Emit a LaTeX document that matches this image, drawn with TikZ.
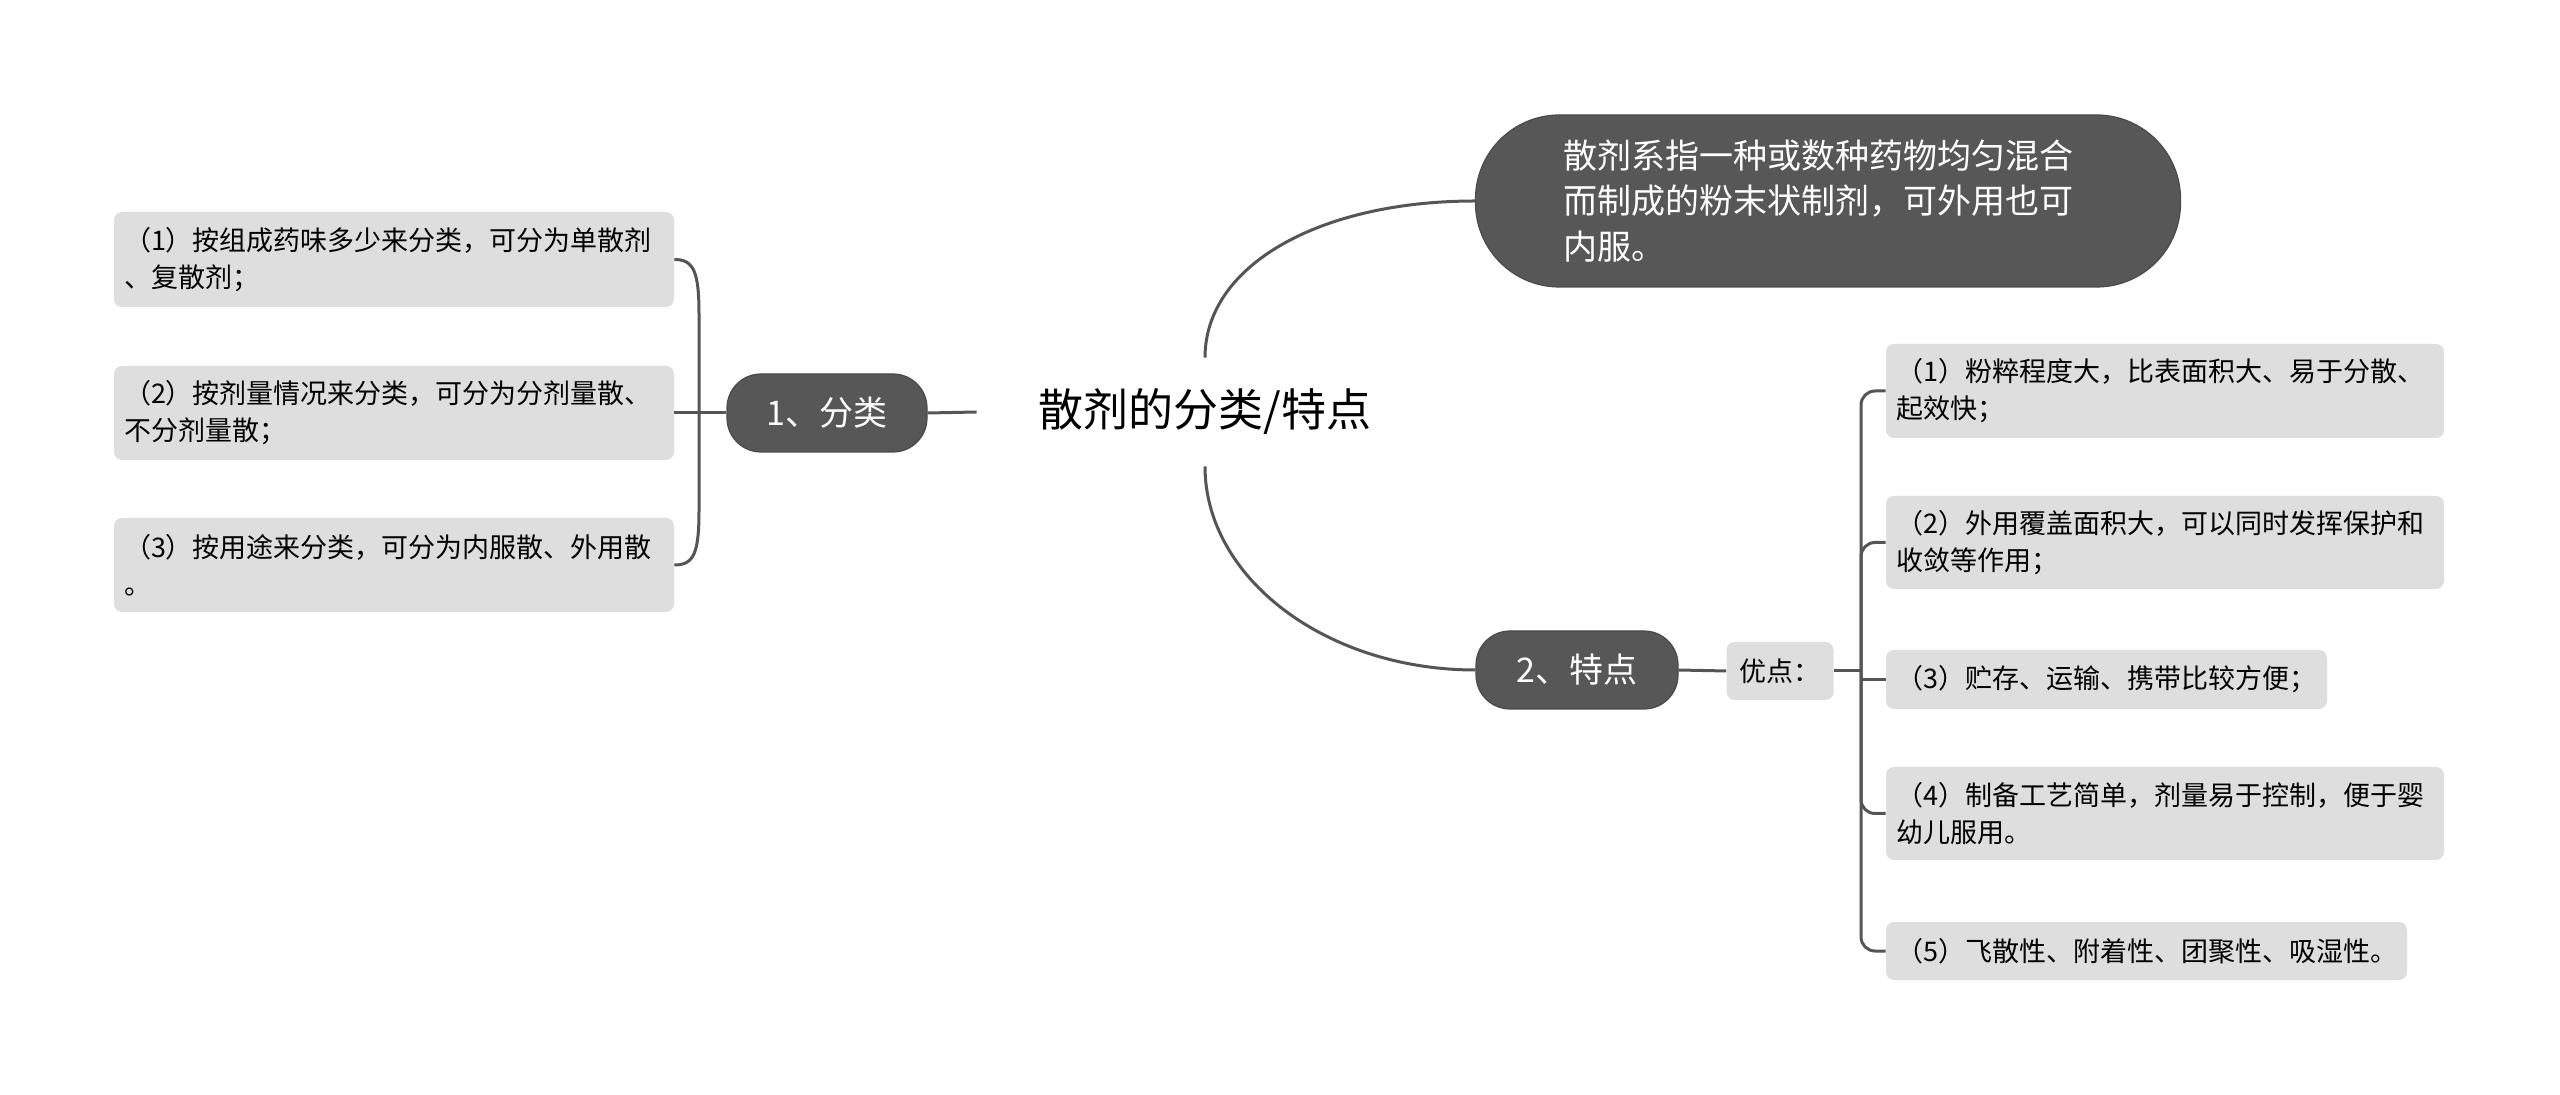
\documentclass[tikz,border=0pt]{standalone}
\usepackage{fontspec}
\setmainfont{Noto Sans CJK SC}
\definecolor{linec}{HTML}{555555}
\definecolor{darkf}{HTML}{575757}
\definecolor{darkd}{HTML}{4A4A4A}
\definecolor{leaff}{HTML}{DEDEDE}
\tikzset{
  conn/.style={draw=linec, line width=1.5pt},
  darkbox/.style={fill=darkf, draw=darkd, line width=0.6pt, text=white, inner sep=0pt},
  leafbox/.style={fill=leaff, draw=none, rounded corners=4pt, inner xsep=5pt, inner ysep=0pt,
    align=left, font=\fontsize{13.5pt}{18.5pt}\selectfont},
}
\begin{document}
\begin{tikzpicture}[x=0.5pt,y=-0.5pt]
\useasboundingbox (0,0) rectangle (2560,1095);
\fill[white] (0,0) rectangle (2560,1095);

% root
\node[inner sep=0pt, minimum width=228pt, minimum height=54pt,
  font=\fontsize{22.5pt}{26pt}\selectfont] (root) at (1205,412) {散剂的分类/特点};

% definition box
\node[darkbox, rounded corners=42pt, minimum width=352.5pt, minimum height=86pt,
  text width=265pt, align=left, font=\fontsize{17pt}{22.75pt}\selectfont]
  (def) at (1828,201) {散剂系指一种或数种药物均匀混合\\而制成的粉末状制剂，可外用也可\\内服。};

% category nodes
\node[darkbox, rounded corners=17pt, minimum width=100pt, minimum height=39pt,
  font=\fontsize{17pt}{20pt}\selectfont] (lcat) at (827,413) {1、分类};
\node[darkbox, rounded corners=17pt, minimum width=101pt, minimum height=39pt,
  font=\fontsize{17pt}{20pt}\selectfont] (fcat) at (1577,670) {2、特点};

\node[leafbox, align=center, minimum width=53.5pt, minimum height=29pt] (yd) at (1780,671) {优点：};

% left leaves
\node[leafbox, text width=270pt, minimum height=47.5pt] (lb1) at (394,259.5)
  {（1）按组成药味多少来分类，可分为单散剂\\、复散剂；};
\node[leafbox, text width=270pt, minimum height=47pt] (lb2) at (394,413)
  {（2）按剂量情况来分类，可分为分剂量散、\\不分剂量散；};
\node[leafbox, text width=270pt, minimum height=47pt] (lb3) at (394,565)
  {（3）按用途来分类，可分为内服散、外用散\\。};

% right leaves
\node[leafbox, text width=269pt, minimum height=47pt] (rb1) at (2165,391)
  {（1）粉粹程度大，比表面积大、易于分散、\\起效快；};
\node[leafbox, text width=269pt, minimum height=46.5pt] (rb2) at (2165,542.5)
  {（2）外用覆盖面积大，可以同时发挥保护和\\收敛等作用；};
\node[leafbox, text width=210.5pt, minimum height=29.5pt] (rb3) at (2106.5,679.5)
  {（3）贮存、运输、携带比较方便；};
\node[leafbox, text width=269pt, minimum height=46.5pt] (rb4) at (2165,813.5)
  {（4）制备工艺简单，剂量易于控制，便于婴\\幼儿服用。};
\node[leafbox, text width=250.5pt, minimum height=29pt] (rb5) at (2146.5,951)
  {（5）飞散性、附着性、团聚性、吸湿性。};

% connectors: root
\draw[conn] (lcat.east) -- (root.west);
\draw[conn] (root.north) .. controls (1205,265) and (1320,201) .. (def.west);
\draw[conn] (root.south) .. controls (1205,578) and (1326,670) .. (fcat.west);

% left bracket
\coordinate (lj) at (699,413);
\draw[conn] (lcat.west) -- (lb2.east);
\draw[conn] (lb1.east) .. controls (694,259.5) and (699,272) .. (699,315) -- (699,510)
  .. controls (699,553) and (694,565) .. (lb3.east);

% right bracket
\coordinate (rj) at (1861,671);
\draw[conn] (fcat.east) -- (yd.west);
\draw[conn] (yd.east) -- (rj);
\draw[conn, rounded corners=7pt] (rb1.west) -| (rj) |- (rb5.west);
\draw[conn, rounded corners=7pt] (rj) |- (rb2.west);
\draw[conn, rounded corners=7pt] (rj) |- (rb4.west);
\draw[conn] (rb3.west -| rj) -- (rb3.west);
\end{tikzpicture}
\end{document}
